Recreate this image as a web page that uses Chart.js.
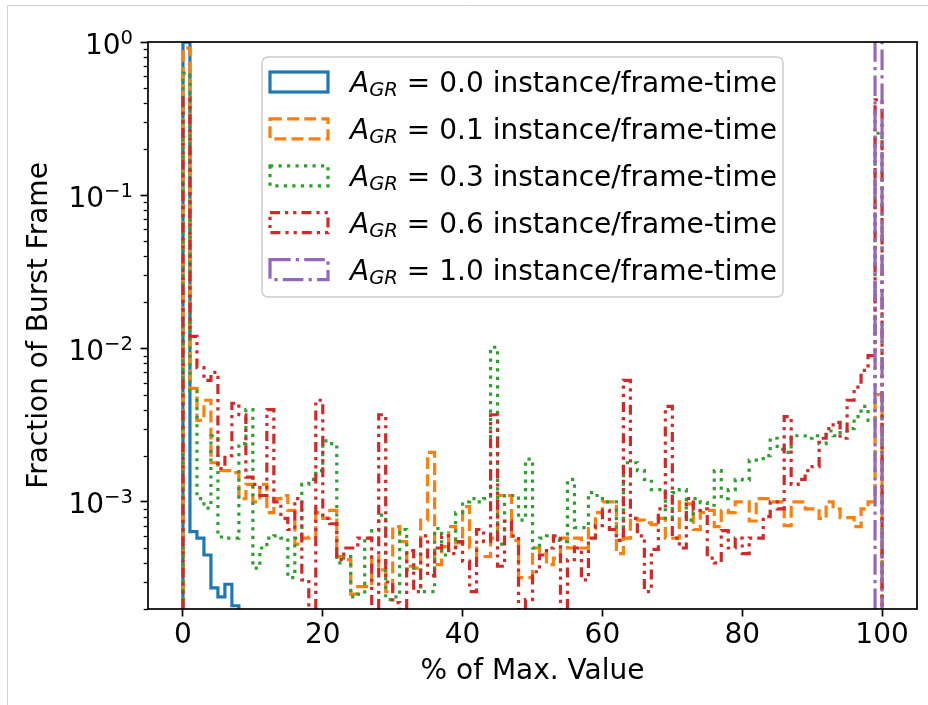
<!DOCTYPE html>
<html>
<head>
<meta charset="utf-8">
<script src="https://cdn.jsdelivr.net/npm/chart.js@4/dist/chart.umd.min.js"></script>
<style>
  html, body { margin: 0; padding: 0; background: #fff; }
  #canvas { display: block; }
</style>
</head>
<body>
<canvas id="canvas" width="928" height="705"></canvas>
<script>
// histogram bin edges, % of max value (bin width 1)
const BIN_EDGES = [
    0, 1, 2, 3, 4, 5, 6, 7, 8, 9, 10, 11, 12, 13, 14, 15, 16, 17, 18, 19,
    20, 21, 22, 23, 24, 25, 26, 27, 28, 29, 30, 31, 32, 33, 34, 35, 36, 37, 38, 39,
    40, 41, 42, 43, 44, 45, 46, 47, 48, 49, 50, 51, 52, 53, 54, 55, 56, 57, 58, 59,
    60, 61, 62, 63, 64, 65, 66, 67, 68, 69, 70, 71, 72, 73, 74, 75, 76, 77, 78, 79,
    80, 81, 82, 83, 84, 85, 86, 87, 88, 89, 90, 91, 92, 93, 94, 95, 96, 97, 98, 99, 100
];

const AGR_VALUES = ['0.0', '0.1', '0.3', '0.6', '1.0'];

// fraction of burst frames per bin
const agr00 = [
    0.9973, 6.4e-4, 5.8e-4, 4.5e-4, 2.75e-4, 2.4e-4, 2.9e-4, 2.1e-4, 0, 0,
    0, 0, 0, 0, 0, 0, 0, 0, 0, 0,
    0, 0, 0, 0, 0, 0, 0, 0, 0, 0,
    0, 0, 0, 0, 0, 0, 0, 0, 0, 0,
    0, 0, 0, 0, 0, 0, 0, 0, 0, 0,
    0, 0, 0, 0, 0, 0, 0, 0, 0, 0,
    0, 0, 0, 0, 0, 0, 0, 0, 0, 0,
    0, 0, 0, 0, 0, 0, 0, 0, 0, 0,
    0, 0, 0, 0, 0, 0, 0, 0, 0, 0,
    0, 0, 0, 0, 0, 0, 0, 0, 0, 0
];
const agr01 = [
    0.914, 5.5e-3, 3.4e-3, 4.6e-3, 1.8e-3, 1.6e-3, 1.6e-3, 1.55e-3, 1.05e-3, 1.3e-3,
    1.0e-3, 1.3e-3, 8.5e-4, 1.05e-3, 1.1e-3, 8.8e-4, 5.3e-4, 5.8e-4, 5.9e-4, 8.5e-4,
    7.8e-4, 8.8e-4, 4.4e-4, 4.2e-4, 2.5e-4, 2.8e-4, 2.8e-4, 4.4e-4, 3.6e-4, 2.6e-4,
    6.9e-4, 5.5e-4, 3.8e-4, 3.7e-4, 7.6e-4, 2.1e-3, 3.9e-4, 5.1e-4, 6.9e-4, 5.4e-4,
    9.3e-4, 5.0e-4, 4.4e-4, 4.4e-4, 5.8e-4, 1.1e-3, 1.1e-3, 5.6e-4, 3.2e-4, 3.2e-4,
    5.0e-4, 4.6e-4, 3.9e-4, 4.3e-4, 5.8e-4, 5.0e-4, 5.8e-4, 5.0e-4, 6.7e-4, 8.5e-4,
    1.0e-3, 1.0e-3, 4.6e-4, 5.8e-4, 7.8e-4, 7.6e-4, 7.3e-4, 7.1e-4, 7.8e-4, 5.8e-4,
    5.8e-4, 1.0e-3, 9.7e-4, 6.6e-4, 8.5e-4, 8.8e-4, 6.9e-4, 8.8e-4, 8.5e-4, 1.0e-3,
    1.0e-3, 7.5e-4, 1.05e-3, 1.05e-3, 1.0e-3, 1.0e-3, 7.0e-4, 1.0e-3, 1.0e-3, 9.0e-4,
    9.0e-4, 7.8e-4, 1.0e-3, 9.0e-4, 7.9e-4, 7.9e-4, 6.9e-4, 9.0e-4, 1.0e-3, 5.0e-3
];
const agr03 = [
    0.627, 5.3e-3, 1.05e-3, 9.1e-4, 2.7e-3, 5.9e-4, 5.8e-4, 5.8e-4, 2.4e-3, 4.0e-3,
    3.7e-4, 5.0e-4, 5.8e-4, 6.0e-4, 5.8e-4, 3.2e-4, 5.8e-4, 1.3e-3, 1.4e-3, 1.6e-3,
    2.5e-3, 2.4e-3, 4.0e-4, 4.4e-4, 2.4e-4, 2.5e-4, 5.8e-4, 6.5e-4, 8.2e-4, 2.3e-4,
    2.4e-4, 6.6e-4, 3.6e-4, 3.7e-4, 2.6e-4, 2.6e-4, 6.7e-4, 4.5e-4, 5.0e-4, 8.5e-4,
    1.0e-3, 1.05e-3, 1.0e-3, 1.05e-3, 1.02e-2, 5.3e-4, 1.1e-3, 1.1e-3, 7.6e-4, 1.9e-3,
    5.0e-4, 5.8e-4, 6.0e-4, 5.6e-4, 5.5e-4, 1.4e-3, 6.8e-4, 6.8e-4, 1.15e-3, 1.1e-3,
    1.0e-3, 1.0e-3, 5.6e-4, 1.8e-3, 1.8e-3, 1.6e-3, 1.4e-3, 1.2e-3, 1.2e-3, 7.8e-4,
    1.15e-3, 1.2e-3, 7.6e-4, 1.05e-3, 9.9e-4, 9.5e-4, 1.6e-3, 1.05e-3, 1.2e-3, 1.4e-3,
    1.39e-3, 1.87e-3, 1.87e-3, 2.0e-3, 2.6e-3, 2.2e-3, 2.1e-3, 2.7e-3, 2.7e-3, 2.6e-3,
    2.7e-3, 2.4e-3, 2.9e-3, 2.7e-3, 2.9e-3, 3.0e-3, 3.6e-3, 4.2e-3, 3.4e-3, 0.254
];
const agr06 = [
    0.43, 1.2e-2, 7.5e-3, 6.2e-3, 7.0e-3, 1.65e-3, 2.0e-3, 4.4e-3, 3.7e-3, 1.45e-3,
    1.3e-3, 1.1e-3, 4.0e-3, 1.0e-3, 7.8e-4, 6.6e-4, 1.05e-3, 3.1e-4, 0, 4.6e-3,
    7.8e-4, 7.2e-4, 4.2e-4, 5.0e-4, 5.0e-4, 5.8e-4, 5.8e-4, 0, 3.7e-3, 3.0e-4,
    2.2e-4, 0, 4.8e-4, 2.6e-4, 6.0e-4, 3.3e-4, 5.0e-4, 6.0e-4, 4.6e-4, 5.5e-4,
    4.1e-4, 2.6e-4, 6.6e-4, 5.5e-4, 3.7e-3, 3.8e-4, 7.5e-4, 6.0e-4, 0, 2.3e-4,
    3.5e-4, 4.5e-4, 5.0e-4, 6.0e-4, 0, 4.2e-4, 5.0e-4, 3.1e-4, 5.8e-4, 7.0e-4,
    8.8e-4, 6.6e-4, 5.6e-4, 6.2e-3, 7.8e-4, 6.0e-4, 2.6e-4, 4.9e-4, 9.0e-4, 4.2e-3,
    5.8e-4, 5.0e-4, 1.05e-3, 8.8e-4, 9.0e-4, 4.3e-4, 4.0e-4, 6.5e-4, 5.0e-4, 5.8e-4,
    4.6e-4, 5.8e-4, 5.8e-4, 8.0e-4, 1.0e-3, 9.0e-4, 3.6e-3, 1.3e-3, 1.4e-3, 1.6e-3,
    1.7e-3, 2.6e-3, 3.0e-3, 3.3e-3, 2.6e-3, 4.6e-3, 5.6e-3, 7.2e-3, 9.0e-3, 0.42
];
const agr10 = [
    0, 0, 0, 0, 0, 0, 0, 0, 0, 0,
    0, 0, 0, 0, 0, 0, 0, 0, 0, 0,
    0, 0, 0, 0, 0, 0, 0, 0, 0, 0,
    0, 0, 0, 0, 0, 0, 0, 0, 0, 0,
    0, 0, 0, 0, 0, 0, 0, 0, 0, 0,
    0, 0, 0, 0, 0, 0, 0, 0, 0, 0,
    0, 0, 0, 0, 0, 0, 0, 0, 0, 0,
    0, 0, 0, 0, 0, 0, 0, 0, 0, 0,
    0, 0, 0, 0, 0, 0, 0, 0, 0, 0,
    0, 0, 0, 0, 0, 0, 0, 0, 0, 1.0
];

const X_TICKS = [0, 20, 40, 60, 80, 100];
const Y_TICKS = [1e-3, 1e-2, 1e-1, 1];
const Y_MIN = 2e-4;
const Y_MAX = 1;

const SERIES = [agr00, agr01, agr03, agr06, agr10];
const COLORS = ['#1f77b4', '#ff7f0e', '#2ca02c', '#d62728', '#9467bd'];
const DASHES = [[], [11.9, 5.2], [3.2, 5.3], [10, 5, 3.2, 5, 3.2, 5], [20.6, 5.2, 3.2, 5.2]];
const LINE_W = 3.2;
const FONT = 'DejaVu Sans';
const FS = 28;

// step outline of a histogram; empty bins sit on the axis floor
function outline(vals) {
    const pts = [{x: BIN_EDGES[0], y: Y_MIN, floor: true}];
    vals.forEach((v, i) => {
        const empty = !(v > 0);
        const y = empty ? Y_MIN : v;
        pts.push({x: BIN_EDGES[i], y: y, floor: empty});
        pts.push({x: BIN_EDGES[i + 1], y: y, floor: empty});
    });
    pts.push({x: BIN_EDGES[vals.length], y: Y_MIN, floor: true});
    return pts;
}

const datasets = SERIES.map((vals, i) => {
    const pts = outline(vals);
    return {
        label: AGR_VALUES[i],
        data: pts,
        borderColor: COLORS[i],
        borderWidth: LINE_W,
        borderDash: DASHES[i],
        borderCapStyle: 'butt',
        borderJoinStyle: 'miter',
        pointRadius: 0,
        pointHitRadius: 0,
        tension: 0,
        fill: false,
        clip: 0,
        order: SERIES.length - i,
        segment: {
            // don't draw runs along the floor for empty bins
            borderColor: ctx => (pts[ctx.p0DataIndex].floor && pts[ctx.p1DataIndex].floor) ? 'rgba(0,0,0,0)' : undefined
        }
    };
});

// legend box / frame / log ticks
const LEG = {x: 262, y: 57, w: 521, h: 240, r: 6, handleX: 270, handleW: 58, handleH: 20, textX: 350, row0: 82, step: 46.9};

function drawYLabels(chart) {
    const ctx = chart.ctx;
    const ys = chart.scales.y;
    const right = chart.chartArea.left - 15;
    ctx.save();
    ctx.fillStyle = '#000';
    ctx.textBaseline = 'alphabetic';
    ctx.textAlign = 'left';
    Y_TICKS.forEach(v => {
        const e = Math.round(Math.log10(v));
        const exp = e < 0 ? '\u2212' + (-e) : String(e);
        const py = ys.getPixelForValue(v);
        ctx.font = FS + 'px "' + FONT + '"';
        const wBase = ctx.measureText('10').width;
        ctx.font = (FS * 0.7) + 'px "' + FONT + '"';
        const wExp = ctx.measureText(exp).width;
        const x0 = right - wBase - wExp;
        ctx.font = FS + 'px "' + FONT + '"';
        ctx.fillText('10', x0, py + 11.5);
        ctx.font = (FS * 0.7) + 'px "' + FONT + '"';
        ctx.fillText(exp, x0 + wBase, py + 1.5);
    });
    ctx.restore();
}

function drawMinorTicks(chart) {
    const ctx = chart.ctx;
    const ys = chart.scales.y;
    const left = chart.chartArea.left;
    ctx.save();
    ctx.strokeStyle = '#000';
    ctx.lineWidth = 1.3;
    for (let k = -4; k < 0; k++) {
        for (let m = 2; m <= 9; m++) {
            const v = m * Math.pow(10, k);
            if (v < Y_MIN || v > Y_MAX) continue;
            const py = Math.round(ys.getPixelForValue(v)) + 0.5;
            ctx.beginPath();
            ctx.moveTo(left - 4.3, py);
            ctx.lineTo(left, py);
            ctx.stroke();
        }
    }
    ctx.restore();
}

function drawFrame(chart) {
    const {left, right, top, bottom} = chart.chartArea;
    const ctx = chart.ctx;
    ctx.save();
    ctx.strokeStyle = '#000';
    ctx.lineWidth = 1.7;
    ctx.strokeRect(left, top, right - left, bottom - top);
    ctx.restore();
}

function drawLegend(chart) {
    const ctx = chart.ctx;
    ctx.save();
    ctx.beginPath();
    ctx.roundRect(LEG.x, LEG.y, LEG.w, LEG.h, LEG.r);
    ctx.fillStyle = 'rgba(255,255,255,0.8)';
    ctx.fill();
    ctx.strokeStyle = '#cccccc';
    ctx.lineWidth = 1.5;
    ctx.stroke();

    chart.data.datasets.forEach((ds, i) => {
        const cy = LEG.row0 + i * LEG.step;
        ctx.save();
        ctx.strokeStyle = ds.borderColor;
        ctx.lineWidth = LINE_W;
        ctx.setLineDash(ds.borderDash);
        ctx.lineCap = 'butt';
        ctx.lineJoin = 'miter';
        ctx.strokeRect(LEG.handleX, cy - LEG.handleH / 2, LEG.handleW, LEG.handleH);
        ctx.restore();

        const base = cy + 10;
        let x = LEG.textX;
        ctx.fillStyle = '#000';
        ctx.textBaseline = 'alphabetic';
        ctx.textAlign = 'left';
        ctx.font = 'italic ' + FS + 'px "' + FONT + '"';
        ctx.fillText('A', x, base);
        x += ctx.measureText('A').width;
        ctx.font = 'italic ' + (FS * 0.7) + 'px "' + FONT + '"';
        ctx.fillText('GR', x, base + 4);
        x += ctx.measureText('GR').width;
        ctx.font = FS + 'px "' + FONT + '"';
        ctx.fillText(' = ' + ds.label + ' instance/frame-time', x, base);
    });
    ctx.restore();
}

const figurePlugin = {
    id: 'figure',
    beforeDraw(chart) {
        const ctx = chart.ctx;
        ctx.save();
        ctx.fillStyle = '#fff';
        ctx.fillRect(0, 0, chart.width, chart.height);
        // thin grey page edge, left and top
        ctx.strokeStyle = '#d0d0d0';
        ctx.lineWidth = 1;
        ctx.beginPath();
        ctx.moveTo(7.5, chart.height);
        ctx.lineTo(7.5, 5.5);
        ctx.lineTo(chart.width, 5.5);
        ctx.stroke();
        ctx.restore();
    },
    afterDatasetsDraw(chart) {
        drawMinorTicks(chart);
        drawFrame(chart);
        drawYLabels(chart);
        drawLegend(chart);
    }
};

function drawChart() {
    const ctx = document.getElementById('canvas').getContext('2d');
    return new Chart(ctx, {
        type: 'line',
        data: { datasets: datasets },
        options: {
            responsive: false,
            animation: false,
            devicePixelRatio: 1,
            layout: { padding: { left: 0, top: 42, right: 11, bottom: 0 } },
            plugins: { legend: { display: false }, tooltip: { enabled: false } },
            scales: {
                x: {
                    type: 'linear',
                    min: -5,
                    max: 105,
                    afterBuildTicks: s => { s.ticks = X_TICKS.map(v => ({value: v})); },
                    afterFit: s => { s.height = 96; },
                    grid: { display: true, drawOnChartArea: false, drawTicks: true, tickLength: 7.5, tickWidth: 1.7, tickColor: '#000' },
                    border: { display: false },
                    ticks: { color: '#000', font: { family: FONT, size: FS }, padding: 2, maxRotation: 0 },
                    title: { display: true, text: '% of Max. Value', color: '#000', font: { family: FONT, size: FS }, padding: { top: 0, bottom: 16 } }
                },
                y: {
                    type: 'logarithmic',
                    min: Y_MIN,
                    max: Y_MAX,
                    afterBuildTicks: s => { s.ticks = Y_TICKS.map(v => ({value: v})); },
                    afterFit: s => { s.width = 148; },
                    grid: { display: true, drawOnChartArea: false, drawTicks: true, tickLength: 7.5, tickWidth: 1.7, tickColor: '#000' },
                    border: { display: false },
                    ticks: { display: false },
                    title: { display: true, text: 'Fraction of Burst Frame', color: '#000', font: { family: FONT, size: FS }, padding: { top: 23, bottom: 0 } }
                }
            }
        },
        plugins: [figurePlugin]
    });
}

drawChart();
</script>
</body>
</html>
